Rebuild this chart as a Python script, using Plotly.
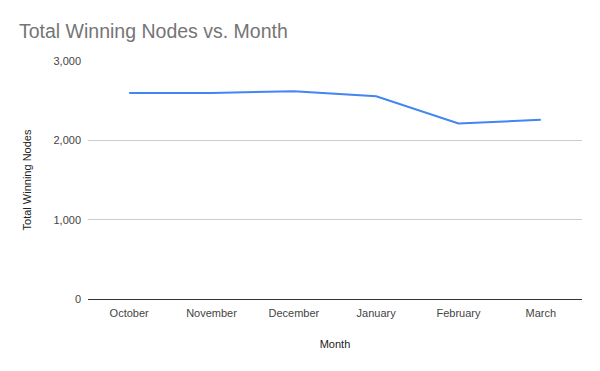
import plotly.graph_objects as go

months = ["October", "November", "December", "January", "February", "March"]
nodes = [2598, 2598, 2619, 2555, 2212, 2259]
y_ticks = [0, 1000, 2000, 3000]
y_tick_labels = ["0", "1,000", "2,000", "3,000"]

FONT = "Arial"

fig = go.Figure()
fig.add_trace(go.Scatter(
    x=months, y=nodes, mode="lines",
    line=dict(color="#4285F4", width=2),
    hoverinfo="x+y",
))

fig.update_layout(
    width=600, height=371,
    margin=dict(l=88, r=18, t=61, b=72),
    paper_bgcolor="white", plot_bgcolor="white",
    showlegend=False,
    font=dict(family=FONT, size=12, color="#222222"),
    title=dict(
        text="Total Winning Nodes vs. Month",
        font=dict(family=FONT, size=19.5, color="#757575"),
        x=19/600, xref="container", xanchor="left",
        y=1 - 31/371, yref="container", yanchor="middle",
        pad=dict(l=0),
    ),
)

fig.update_xaxes(
    type="category",
    showgrid=False,
    showline=True, linecolor="#333333", linewidth=1,
    ticks="", tickfont=dict(size=11, color="#444444"),
    ticklabelstandoff=4,
    title=dict(text="Month", font=dict(size=11, color="#222222"), standoff=22),
    range=[-0.5, 5.5],
)
fig.update_yaxes(
    range=[0, 3000],
    tickvals=y_ticks, ticktext=y_tick_labels,
    showgrid=True, gridcolor="#cccccc", gridwidth=1,
    zeroline=False,
    showline=False,
    ticks="", tickfont=dict(size=11, color="#444444"),
    ticklabelstandoff=6,
    title=dict(text="Total Winning Nodes", font=dict(size=11, color="#222222"), standoff=19),
)

fig.write_html("out.html", config={"displayModeBar": False},
               post_script="document.body.style.margin='0';")
